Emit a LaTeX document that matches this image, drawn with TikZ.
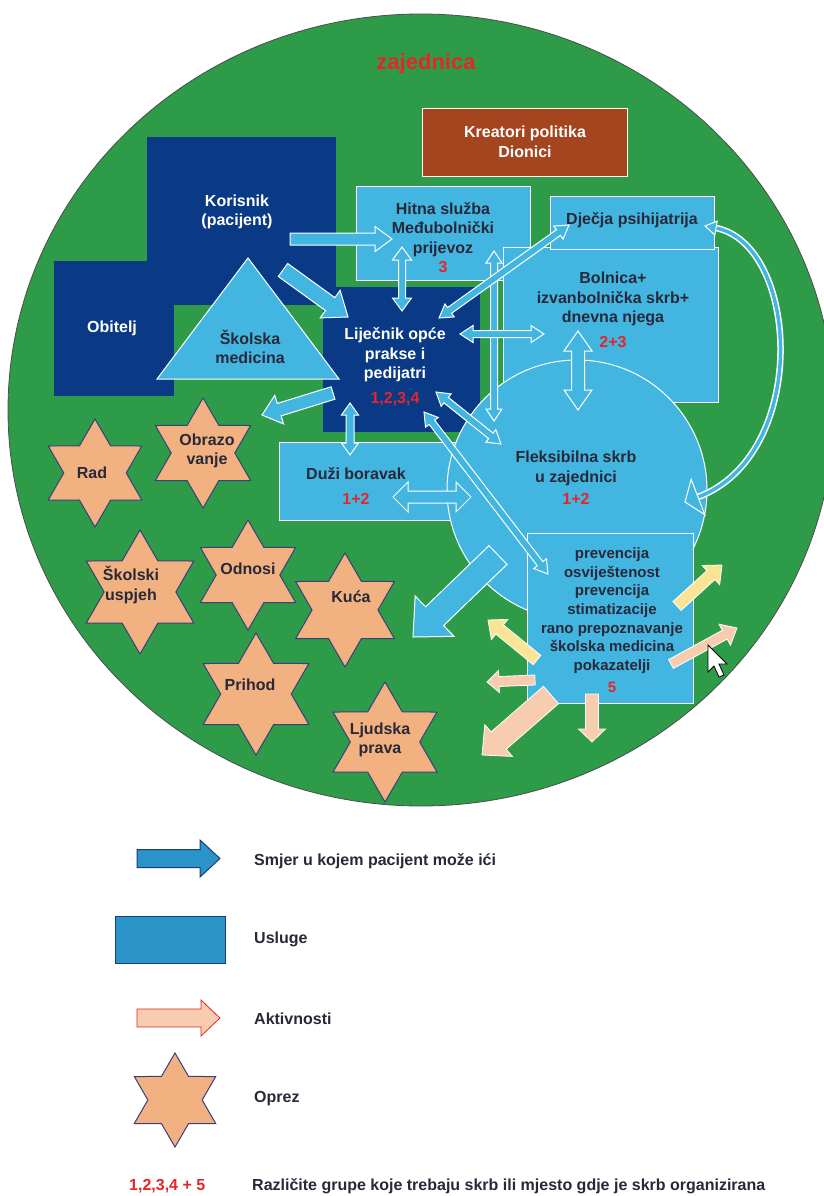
\documentclass[tikz,border=0pt]{standalone}
\usepackage{fontspec}
\setmainfont{Liberation Sans}
\usetikzlibrary{calc,shapes.geometric}

\definecolor{zgreen}{RGB}{46,155,72}
\definecolor{navy}{RGB}{10,58,134}
\definecolor{lblue}{RGB}{66,182,225}
\definecolor{brick}{RGB}{164,69,31}
\definecolor{sand}{RGB}{242,177,128}
\definecolor{starline}{RGB}{58,62,125}
\definecolor{butter}{RGB}{252,228,150}
\definecolor{peach}{RGB}{248,204,174}
\definecolor{numred}{RGB}{228,38,43}
\definecolor{ink}{RGB}{40,40,56}
\definecolor{legblue}{RGB}{42,147,200}
\definecolor{legline}{RGB}{30,60,120}

\newcommand{\blockarrow}[6]{%
  \coordinate (ba-n) at ($(#3)!#6pt!(#2)$);
  \filldraw[#1] ($(#2)!#4pt!90:(#3)$) -- ($(ba-n)!#4pt!90:(#3)$) -- ($(ba-n)!#5pt!90:(#3)$) -- (#3)
    -- ($(ba-n)!#5pt!-90:(#3)$) -- ($(ba-n)!#4pt!-90:(#3)$) -- ($(#2)!#4pt!-90:(#3)$) -- cycle;}
\newcommand{\twoarrow}[6]{%
  \coordinate (ta-n) at ($(#3)!#6pt!(#2)$);
  \coordinate (ta-m) at ($(#2)!#6pt!(#3)$);
  \filldraw[#1] (#2) -- ($(ta-m)!#5pt!90:(#3)$) -- ($(ta-m)!#4pt!90:(#3)$) -- ($(ta-n)!#4pt!90:(#3)$)
    -- ($(ta-n)!#5pt!90:(#3)$) -- (#3) -- ($(ta-n)!#5pt!-90:(#3)$) -- ($(ta-n)!#4pt!-90:(#3)$)
    -- ($(ta-m)!#4pt!-90:(#3)$) -- ($(ta-m)!#5pt!-90:(#3)$) -- cycle;}
\newcommand{\arrowhead}[4]{%
  \filldraw[#1] ($(#2)!#4pt!90:(#3)$) -- (#3) -- ($(#2)!#4pt!-90:(#3)$) -- cycle;}

\begin{document}
\begin{tikzpicture}[x=1pt,y=-1pt,
    every node/.style={inner sep=0pt, align=center, font=\bfseries\fontsize{16}{19.5}\selectfont},
    navybox/.style={rectangle, fill=navy},
    care/.style={rectangle, fill=lblue, draw=white, line width=1pt},
    dark/.style={text=ink},
    light/.style={text=white},
    oprez/.style={star, star points=6, star point ratio=1.73, fill=sand, draw=starline, line width=1pt},
    patharrow/.style={fill=lblue, draw=white, line width=1pt},
    act/.style={fill=peach, draw=white, line width=0.8pt},
    hint/.style={fill=butter, draw=white, line width=0.8pt}]

\useasboundingbox (0,0) rectangle (824,1196);
\begin{scope}
  \clip (0,0) rectangle (824,1196);
  \filldraw[fill=zgreen, draw=black!70, line width=0.8pt] (421,410) ellipse [x radius=413pt, y radius=396pt];
\end{scope}

\node[text=numred, font=\bfseries\fontsize{22}{24}\selectfont] (zajednica) at (426,64) {zajednica};

\node[rectangle, fill=brick, draw=white, line width=1pt, minimum width=205pt, minimum height=67pt] (kreatori) at (524.5,142.5) {};
\node[navybox, minimum width=189pt, minimum height=168pt] (korisnik) at (241.5,221) {};
\node[navybox, minimum width=120pt, minimum height=135pt] (obitelj) at (114,328.5) {};
\node[navybox, minimum width=157pt, minimum height=145pt] (lijecnik) at (401.5,359.5) {};
\filldraw[fill=lblue, draw=white, line width=1pt] (248,258) -- (339,379) -- (157,379) -- cycle;
\node[care, minimum width=174pt, minimum height=94pt] (hitna) at (443,233) {};
\node[care, minimum width=215pt, minimum height=155pt] (bolnica) at (610.5,324.5) {};
\node[care, minimum width=164pt, minimum height=53pt] (djecja) at (632,222.5) {};
\node[care, minimum width=191pt, minimum height=78pt] (duzi) at (374.5,481) {};
\node[circle, fill=lblue, draw=white, line width=1pt, minimum size=260pt] (fleks) at (577,490) {};
\node[care, minimum width=166pt, minimum height=170pt] (prevencija) at (610,618) {};

\node[light] (kreatori-t) at (525,142) {Kreatori politika\\Dionici};
\node[light] (korisnik-t) at (237,212) {Korisnik\\(pacijent)};
\node[light] (obitelj-t) at (112,328) {Obitelj};
\node[light] (lijecnik-t) at (395,367) {Liječnik opće\\prakse i\\pedijatri\\[5pt]\textcolor{numred}{1,2,3,4}};
\node[dark] (skolska-t) at (250,347) {Školska\\medicina};
\node[dark] (hitna-t) at (443,237.5) {Hitna služba\\Međubolnički\\prijevoz\\\textcolor{numred}{3}};
\node[dark] (djecja-t) at (632,220) {Dječja psihijatrija};
\node[dark] (bolnica-t) at (613,310) {Bolnica+\\izvanbolnička skrb+\\dnevna njega\\[5pt]\textcolor{numred}{2+3}};
\node[dark] (fleks-t) at (576,478) {Fleksibilna skrb\\u zajednici\\[3pt]\textcolor{numred}{1+2}};
\node[dark] (duzi-t) at (356,486) {Duži boravak\\[6pt]\textcolor{numred}{1+2}};
\node[dark, font=\bfseries\fontsize{15}{18.7}\selectfont] (prevencija-t) at (612,620) {prevencija\\osviještenost\\prevencija\\stimatizacije\\rano prepoznavanje\\školska medicina\\pokazatelji\\[3pt]\textcolor{numred}{5}};

\foreach \nm/\cx/\cy/\r/\tx/\ty/\lbl in {
    rad/95/473/54/92/473/Rad,
    obrazovanje/203/453/55/207/451/{Obrazo\\vanje},
    uspjeh/140/592/62/131/585/{Školski\\uspjeh},
    odnosi/248/575/55/248/569/Odnosi,
    kuca/345/610/57/351/597/Kuća,
    prihod/256/694/61/250/685/Prihod,
    prava/385/742/60/380/740/{Ljudska\\prava}}
  {
    \node[oprez, minimum size={2*\r*1pt}] (\nm) at (\cx,\cy) {};
    \node[dark] (\nm-t) at (\tx,\ty) {\lbl};
  }

\coordinate (k2h-a) at (290,239);
\coordinate (k2h-b) at (392,239);
\coordinate (k2l-a) at (283,270);
\coordinate (k2l-b) at (348,317);
\coordinate (l2s-a) at (333,393);
\coordinate (l2s-b) at (262,415);
\coordinate (f2o-a) at (498,555);
\coordinate (f2o-b) at (413,637);
\blockarrow{patharrow}{k2h-a}{k2h-b}{6}{12.5}{17}
\blockarrow{patharrow}{k2l-a}{k2l-b}{8}{17}{22}
\blockarrow{patharrow}{l2s-a}{l2s-b}{6.5}{15}{18}
\blockarrow{patharrow}{f2o-a}{f2o-b}{13}{28}{30}

\coordinate (hl-a) at (402,247);
\coordinate (hl-b) at (402,311);
\coordinate (vb-a) at (494,251);
\coordinate (vb-b) at (494,421);
\coordinate (ld-a) at (439,318);
\coordinate (ld-b) at (569,225);
\coordinate (lb-a) at (460,334);
\coordinate (lb-b) at (544,334);
\coordinate (bf-a) at (578,331);
\coordinate (bf-b) at (578,410);
\coordinate (lz-a) at (350,403);
\coordinate (lz-b) at (350,455);
\coordinate (zf-a) at (393,497);
\coordinate (zf-b) at (471,497);
\coordinate (lf-a) at (436,392);
\coordinate (lf-b) at (501,444);
\coordinate (lp-a) at (424,412);
\coordinate (lp-b) at (548,574);
\twoarrow{patharrow}{hl-a}{hl-b}{3.5}{9.5}{13}
\twoarrow{patharrow}{vb-a}{vb-b}{3.5}{8}{12}
\twoarrow{patharrow}{ld-a}{ld-b}{3.5}{8}{13}
\twoarrow{patharrow}{lb-a}{lb-b}{3.5}{8.5}{13}
\twoarrow{patharrow}{bf-a}{bf-b}{6.5}{14}{20}
\twoarrow{patharrow}{lz-a}{lz-b}{4}{8.5}{12}
\twoarrow{patharrow}{zf-a}{zf-b}{6}{15}{15}
\twoarrow{patharrow}{lf-a}{lf-b}{3.5}{8}{13}
\twoarrow{patharrow}{lp-a}{lp-b}{3.5}{8}{13}

\coordinate (dj-a) at (716,228);
\coordinate (dj-t) at (705,226);
\coordinate (dj-b) at (698,497);
\coordinate (dj-u) at (685,502);
\draw[white, line width=1.5pt, double=lblue, double distance=3.5pt] (dj-a) .. controls (800,245) and (810,455) .. (dj-b);
\arrowhead{patharrow}{dj-a}{dj-t}{7}
\arrowhead{patharrow}{dj-b}{dj-u}{19}

\coordinate (y1-a) at (677,606);
\coordinate (y1-b) at (722,565);
\coordinate (p1-a) at (671,664);
\coordinate (p1-b) at (737,628);
\coordinate (y2-a) at (537,660);
\coordinate (y2-b) at (488,620);
\coordinate (p2-a) at (535,680);
\coordinate (p2-b) at (487,682);
\coordinate (p3-a) at (551,695);
\coordinate (p3-b) at (482,755);
\coordinate (p4-a) at (592,694);
\coordinate (p4-b) at (592,742);
\blockarrow{hint}{y1-a}{y1-b}{6}{13}{15}
\blockarrow{act}{p1-a}{p1-b}{5}{12}{14}
\blockarrow{hint}{y2-a}{y2-b}{6}{13}{15}
\blockarrow{act}{p2-a}{p2-b}{5}{11}{12}
\blockarrow{act}{p3-a}{p3-b}{11.5}{21}{22}
\blockarrow{act}{p4-a}{p4-b}{6.5}{13.5}{13}

\filldraw[fill=white, draw=black, line width=0.8pt] (708,645) -- ++(0,27) -- ++(6,-6) -- ++(5,11) -- ++(5,-2) -- ++(-5,-11) -- ++(8,0) -- cycle;

\coordinate (leg1-a) at (137,858.5);
\coordinate (leg1-b) at (220,858.5);
\coordinate (leg2-a) at (137,1018);
\coordinate (leg2-b) at (220,1018);
\blockarrow{fill=legblue, draw=legline, line width=1pt}{leg1-a}{leg1-b}{9}{18.5}{20}
\node[rectangle, fill=legblue, draw=legline, line width=1pt, minimum width=110pt, minimum height=47pt] (legbox) at (170,939.5) {};
\blockarrow{fill=peach, draw=numred, line width=0.8pt}{leg2-a}{leg2-b}{9}{18}{19}
\node[oprez, minimum size=94pt] (legstar) at (175,1100) {};

\node[dark, anchor=west] (leg1-t) at (254,861) {Smjer u kojem pacijent može ići};
\node[dark, anchor=west] (legbox-t) at (254,939) {Usluge};
\node[dark, anchor=west] (leg2-t) at (254,1019) {Aktivnosti};
\node[dark, anchor=west] (legstar-t) at (254,1099) {Oprez};
\node[text=numred, anchor=west] (leg5-n) at (129,1186) {1,2,3,4 + 5};
\node[dark, anchor=west] (leg5-t) at (252,1186) {Različite grupe koje trebaju skrb ili mjesto gdje je skrb organizirana};
\end{tikzpicture}
\end{document}
